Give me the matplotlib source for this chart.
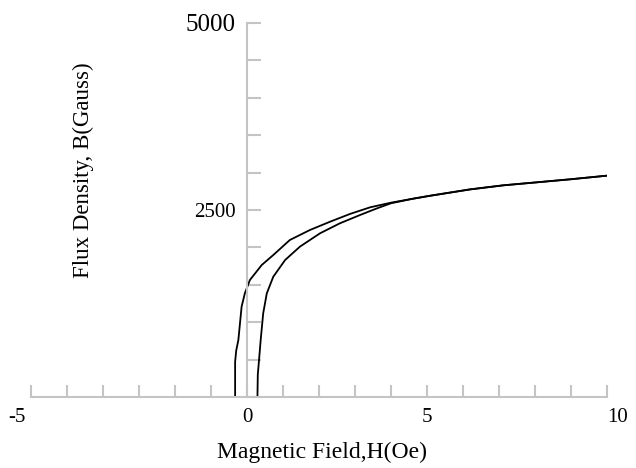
import matplotlib
matplotlib.use("Agg")
import matplotlib.pyplot as plt
from matplotlib.ticker import FixedLocator, NullFormatter
import matplotlib.transforms as mtransforms

# Data
H_upper = [-0.33, -0.33, -0.30, -0.24, -0.15, -0.06, 0.08, 0.41, 0.73, 1.19, 1.75,
           2.31, 2.86, 3.42, 4.00, 4.60, 5.08, 6.19, 7.12, 8.05, 8.97, 10.0]
B_upper = [0, 470, 620, 762, 1207, 1386, 1564, 1765, 1898, 2099, 2233,
           2344, 2447, 2536, 2598, 2650, 2690, 2775, 2830, 2870, 2910, 2959]
H_lower = [0.29, 0.30, 0.33, 0.38, 0.45, 0.55, 0.73, 1.06, 1.47, 2.03, 2.58,
           3.14, 3.60, 4.00, 4.60, 5.08, 6.19, 7.12, 8.05, 8.97, 10.0]
B_lower = [0, 300, 470, 762, 1119, 1386, 1608, 1832, 2010, 2189, 2322,
           2433, 2520, 2590, 2650, 2690, 2775, 2830, 2870, 2910, 2959]

x_tick_marks = list(range(-6, 11))
y_tick_marks = list(range(0, 5001, 500))
x_label_pos = [-6.4, 0, 5, 10.3]
x_label_txt = ["-5", "0", "5", "10"]

plt.rcParams['font.family'] = ['Liberation Serif', 'DejaVu Serif']

fig = plt.figure(figsize=(6.36, 4.68), dpi=100)
ax = fig.add_axes([31/636, 71/468, 576/636, 374/468])

ax.plot(H_upper, B_upper, color='black', lw=1.3)
ax.plot(H_lower, B_lower, color='black', lw=1.3)

grey = '#c4c4c4'
for s in ['top', 'right']:
    ax.spines[s].set_visible(False)
ax.spines['left'].set_position(('data', 0))
ax.spines['left'].set_color(grey)
ax.spines['bottom'].set_color(grey)
ax.spines['left'].set_linewidth(1.5)
ax.spines['bottom'].set_linewidth(1.5)

# x ticks: marks at integers, labels drawn as text below axis
ax.set_xticks(x_tick_marks)
ax.set_xticklabels([])
ax.tick_params(axis='x', which='major', direction='in', length=8.5, width=1.5, color=grey)
trans = mtransforms.blended_transform_factory(ax.transData, ax.transAxes)
for xp, t in zip(x_label_pos, x_label_txt):
    ax.text(xp, -21/374, t, transform=trans, ha='center', va='center', fontsize=15,
            clip_on=False)

# y ticks
ax.yaxis.set_minor_locator(FixedLocator(y_tick_marks))
ax.yaxis.set_minor_formatter(NullFormatter())
ax.set_yticks([2500, 5000])
ax.set_yticklabels(["2500", "5000"])
ax.tick_params(axis='y', which='both', direction='in', length=10, width=1.5, color=grey, pad=8)
ylabels = ax.get_yticklabels()
ylabels[0].set_fontsize(15)
ylabels[1].set_fontsize(18)

ax.set_xlim(-6, 10)
ax.set_ylim(0, 5000)

fig.text(322/636, 16/468, "Magnetic Field,H(Oe)", fontsize=17, ha='center', va='center')
fig.text(83/636, 1 - 170/468, "Flux Density, B(Gauss)", rotation=90,
         fontsize=16.5, ha='center', va='center')

fig.savefig("out.png", dpi=100)
